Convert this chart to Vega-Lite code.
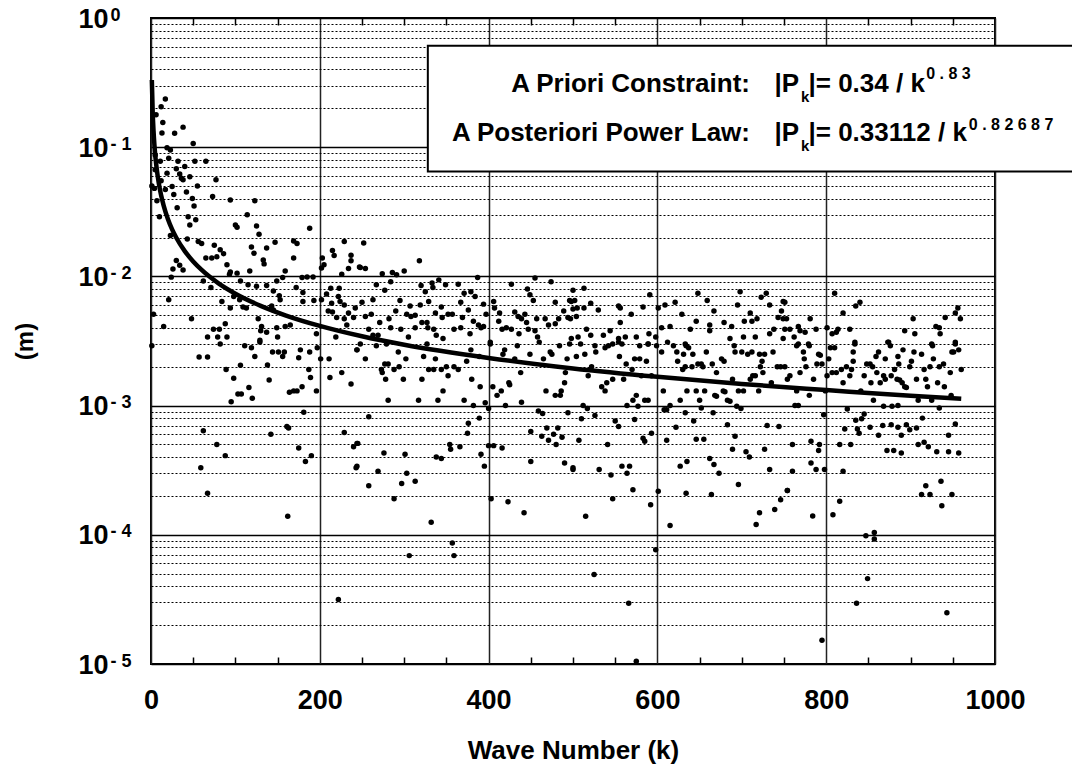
{
"$schema": "https://vega.github.io/schema/vega-lite/v6.json",
"width": 844, "height": 646,
"autosize": {"type": "none"},
"padding": {"left": 151, "top": 18, "right": 77, "bottom": 111},
"background": "white",
"config": {"view": {"stroke": "#000", "strokeWidth": 2}, "font": "Liberation Sans", "axis": {"labelFont": "Liberation Sans", "titleFont": "Liberation Sans", "labelColor": "#000", "titleColor": "#000"}},
"datasets": {
"curve": [{"k":1,"p":0.3311},{"k":2,"p":0.1867},{"k":3,"p":0.1335},{"k":4,"p":0.1052},{"k":5,"p":0.0875},{"k":6,"p":0.0752},{"k":8,"p":0.0593},{"k":10,"p":0.0493},{"k":12,"p":0.0424},{"k":15,"p":0.0353},{"k":20,"p":0.0278},{"k":25,"p":0.0231},{"k":30,"p":0.0199},{"k":40,"p":0.0157},{"k":50,"p":0.01304},{"k":60,"p":0.01122},{"k":80,"p":0.00884},{"k":100,"p":0.00735},{"k":130,"p":0.00592},{"k":160,"p":0.00498},{"k":200,"p":0.00414},{"k":250,"p":0.00344},{"k":300,"p":0.00296},{"k":400,"p":0.00234},{"k":500,"p":0.00194},{"k":600,"p":0.00167},{"k":700,"p":0.00147},{"k":800,"p":0.00132},{"k":900,"p":0.00119},{"k":960,"p":0.00113}],
"pts": [
{"k":17,"p":0.236},{"k":12,"p":0.206},{"k":6,"p":0.178},{"k":14,"p":0.155},{"k":38,"p":0.143},{"k":13,"p":0.129},{"k":28,"p":0.128},{"k":50,"p":0.107},{"k":19,"p":0.099},{"k":23,"p":0.095},{"k":21,"p":0.082},{"k":5,"p":0.087},{"k":11,"p":0.078},{"k":32,"p":0.078},{"k":40,"p":0.071},{"k":52,"p":0.078},{"k":65,"p":0.078},{"k":30,"p":0.068},{"k":5,"p":0.067},{"k":19,"p":0.063},{"k":34,"p":0.062},{"k":46,"p":0.059},{"k":36,"p":0.0575},{"k":38,"p":0.056},{"k":12,"p":0.055},{"k":77,"p":0.056},{"k":55,"p":0.05},{"k":25,"p":0.0496},{"k":4,"p":0.048},{"k":17,"p":0.047},{"k":42,"p":0.045},{"k":27,"p":0.043},{"k":73,"p":0.0416},{"k":49,"p":0.04},{"k":7,"p":0.0385},{"k":94,"p":0.039},{"k":123,"p":0.0385},{"k":31,"p":0.034},{"k":51,"p":0.035},{"k":10,"p":0.029},{"k":44,"p":0.029},{"k":114,"p":0.03},{"k":46,"p":0.025},{"k":53,"p":0.0274},{"k":100,"p":0.025},{"k":102,"p":0.024},{"k":125,"p":0.0246},{"k":188,"p":0.0236},{"k":128,"p":0.0212},{"k":23,"p":0.0207},{"k":43,"p":0.0195},{"k":56,"p":0.0186},{"k":60,"p":0.018},{"k":169,"p":0.0188},{"k":173,"p":0.018},{"k":147,"p":0.0184},{"k":229,"p":0.0186},{"k":75,"p":0.0174},{"k":119,"p":0.0169},{"k":137,"p":0.0166},{"k":82,"p":0.0161},{"k":86,"p":0.015},{"k":65,"p":0.0139},{"k":72,"p":0.0139},{"k":78,"p":0.0142},{"k":122,"p":0.0151},{"k":215,"p":0.0159},{"k":217,"p":0.0145},{"k":237,"p":0.0146},{"k":30,"p":0.0133},{"k":133,"p":0.0134},{"k":169,"p":0.0139},{"k":203,"p":0.0139},{"k":237,"p":0.0132},{"k":34,"p":0.0122},{"k":26,"p":0.0114},{"k":38,"p":0.0112},{"k":90,"p":0.0123},{"k":134,"p":0.0125},{"k":205,"p":0.0123},{"k":202,"p":0.0116},{"k":234,"p":0.0115},{"k":247,"p":0.0118},{"k":94,"p":0.0108},{"k":102,"p":0.0106},{"k":117,"p":0.011},{"k":159,"p":0.011},{"k":226,"p":0.0104},{"k":93,"p":0.0104},{"k":24,"p":0.00987},{"k":62,"p":0.0092},{"k":106,"p":0.0092},{"k":71,"p":0.0082},{"k":115,"p":0.0086},{"k":125,"p":0.0084},{"k":137,"p":0.0085},{"k":149,"p":0.0092},{"k":156,"p":0.0098},{"k":145,"p":0.0077},{"k":179,"p":0.0098},{"k":185,"p":0.0099},{"k":192,"p":0.0099},{"k":180,"p":0.0075},{"k":172,"p":0.0082},{"k":213,"p":0.0081},{"k":223,"p":0.0081},{"k":208,"p":0.0073},{"k":222,"p":0.007},{"k":214,"p":0.0062},{"k":202,"p":0.0066},{"k":193,"p":0.0065},{"k":152,"p":0.0071},{"k":153,"p":0.0066},{"k":98,"p":0.007},{"k":105,"p":0.0066},{"k":84,"p":0.0064},{"k":21,"p":0.0066},{"k":94,"p":0.0057},{"k":109,"p":0.0058},{"k":113,"p":0.0057},{"k":143,"p":0.0059},{"k":145,"p":0.0055},{"k":180,"p":0.0064},{"k":224,"p":0.0064},{"k":229,"p":0.006},{"k":3,"p":0.0051},{"k":48,"p":0.0047},{"k":127,"p":0.0047},{"k":210,"p":0.0054},{"k":215,"p":0.0053},{"k":234,"p":0.0052},{"k":220,"p":0.0048},{"k":229,"p":0.0047},{"k":240,"p":0.0048},{"k":165,"p":0.0042},{"k":159,"p":0.0041},{"k":149,"p":0.004},{"k":15,"p":0.0041},{"k":88,"p":0.0043},{"k":131,"p":0.0041},{"k":232,"p":0.0042},{"k":74,"p":0.0039},{"k":81,"p":0.0039},{"k":130,"p":0.0038},{"k":137,"p":0.0037},{"k":67,"p":0.0034},{"k":79,"p":0.0034},{"k":129,"p":0.0032},{"k":219,"p":0.0034},{"k":196,"p":0.0036},{"k":1,"p":0.0029},{"k":1,"p":0.05},
{"k":57,"p":0.00238},{"k":67,"p":0.00238},{"k":82,"p":0.003},{"k":89,"p":0.0019},{"k":98,"p":0.00163},{"k":95,"p":0.00107},{"k":103,"p":0.00123},{"k":107,"p":0.00123},{"k":106,"p":0.00205},{"k":111,"p":0.0029},{"k":119,"p":0.0028},{"k":123,"p":0.0024},{"k":116,"p":0.00138},{"k":120,"p":0.00114},{"k":129,"p":0.0031},{"k":138,"p":0.00206},{"k":140,"p":0.00158},{"k":144,"p":0.0026},{"k":151,"p":0.0026},{"k":158,"p":0.0026},{"k":156,"p":0.0024},{"k":164,"p":0.00127},{"k":169,"p":0.0013},{"k":173,"p":0.0013},{"k":175,"p":0.00235},{"k":177,"p":0.0027},{"k":179,"p":0.0014},{"k":188,"p":0.0026},{"k":187,"p":0.0019},{"k":189,"p":0.00165},{"k":196,"p":0.0013},{"k":197,"p":0.0028},{"k":201,"p":0.0023},{"k":211,"p":0.0023},{"k":212,"p":0.00165},{"k":226,"p":0.0018},{"k":237,"p":0.00147},{"k":244,"p":0.0027},{"k":181,"p":0.00089},{"k":62,"p":0.00064},{"k":161,"p":0.00069},{"k":163,"p":0.00067},{"k":142,"p":0.0006},{"k":78,"p":0.0005},{"k":175,"p":0.00047},{"k":88,"p":0.00041},{"k":190,"p":0.00041},{"k":59,"p":0.00033},{"k":183,"p":0.00037},{"k":67,"p":0.00021},{"k":162,"p":0.000139},{"k":229,"p":0.00062},{"k":240,"p":0.00048},{"k":245,"p":0.00051},{"k":243,"p":0.00033},{"k":222,"p":0.0000316},{"k":90,"p":0.0034},{"k":150,"p":0.0034},
{"k":252,"p":0.0181},{"k":248,"p":0.0117},{"k":254,"p":0.0115},{"k":318,"p":0.0132},{"k":274,"p":0.0105},{"k":286,"p":0.0107},{"k":291,"p":0.0103},{"k":300,"p":0.011},{"k":284,"p":0.0091},{"k":267,"p":0.0086},{"k":277,"p":0.0078},{"k":320,"p":0.0085},{"k":333,"p":0.0089},{"k":341,"p":0.0094},{"k":349,"p":0.0086},{"k":364,"p":0.0087},{"k":387,"p":0.0098},{"k":325,"p":0.0076},{"k":334,"p":0.0082},{"k":371,"p":0.0074},{"k":379,"p":0.0076},{"k":384,"p":0.007},{"k":250,"p":0.0063},{"k":263,"p":0.0066},{"k":295,"p":0.0065},{"k":307,"p":0.0059},{"k":319,"p":0.006},{"k":329,"p":0.0064},{"k":344,"p":0.0058},{"k":367,"p":0.0063},{"k":376,"p":0.0055},{"k":394,"p":0.0061},{"k":242,"p":0.0057},{"k":254,"p":0.0049},{"k":261,"p":0.0051},{"k":271,"p":0.0044},{"k":282,"p":0.0047},{"k":290,"p":0.0054},{"k":303,"p":0.0051},{"k":308,"p":0.0049},{"k":313,"p":0.005},{"k":321,"p":0.0044},{"k":327,"p":0.0044},{"k":337,"p":0.0052},{"k":345,"p":0.0048},{"k":352,"p":0.0051},{"k":357,"p":0.0051},{"k":369,"p":0.0048},{"k":382,"p":0.0045},{"k":388,"p":0.0042},{"k":394,"p":0.0041},{"k":397,"p":0.0051},{"k":258,"p":0.0039},{"k":263,"p":0.0035},{"k":269,"p":0.0035},{"k":284,"p":0.004},{"k":296,"p":0.0039},{"k":305,"p":0.0034},{"k":313,"p":0.004},{"k":328,"p":0.004},{"k":335,"p":0.0039},{"k":338,"p":0.0035},{"k":346,"p":0.0033},{"k":359,"p":0.0039},{"k":367,"p":0.004},{"k":378,"p":0.0036},{"k":391,"p":0.004},{"k":427,"p":0.0087},{"k":455,"p":0.0097},{"k":474,"p":0.0091},{"k":446,"p":0.008},{"k":449,"p":0.0072},{"k":453,"p":0.0065},{"k":479,"p":0.0063},{"k":498,"p":0.0064},{"k":406,"p":0.0064},{"k":407,"p":0.0057},{"k":413,"p":0.0052},{"k":412,"p":0.0045},{"k":431,"p":0.0053},{"k":435,"p":0.0049},{"k":439,"p":0.0047},{"k":443,"p":0.0051},{"k":445,"p":0.0044},{"k":457,"p":0.0047},{"k":467,"p":0.0047},{"k":471,"p":0.0042},{"k":479,"p":0.0043},{"k":483,"p":0.0047},{"k":489,"p":0.0054},{"k":494,"p":0.0048},{"k":421,"p":0.004},{"k":416,"p":0.0039},{"k":427,"p":0.0039},{"k":436,"p":0.0036},{"k":447,"p":0.0039},{"k":458,"p":0.0034},{"k":498,"p":0.0033},{"k":402,"p":0.0031},{"k":455,"p":0.0038},
{"k":244,"p":0.0027},{"k":248,"p":0.003},{"k":254,"p":0.0023},{"k":267,"p":0.0029},{"k":273,"p":0.0019},{"k":274,"p":0.0018},{"k":279,"p":0.003},{"k":277,"p":0.0021},{"k":281,"p":0.0021},{"k":278,"p":0.0016},{"k":288,"p":0.0019},{"k":293,"p":0.0026},{"k":294,"p":0.002},{"k":299,"p":0.0016},{"k":302,"p":0.0023},{"k":317,"p":0.0011},{"k":281,"p":0.0011},{"k":321,"p":0.0016},{"k":323,"p":0.0024},{"k":327,"p":0.003},{"k":329,"p":0.0019},{"k":335,"p":0.0019},{"k":337,"p":0.0023},{"k":340,"p":0.0011},{"k":344,"p":0.0019},{"k":346,"p":0.0013},{"k":350,"p":0.002},{"k":352,"p":0.0017},{"k":359,"p":0.002},{"k":364,"p":0.0019},{"k":371,"p":0.0011},{"k":374,"p":0.0022},{"k":379,"p":0.0027},{"k":382,"p":0.001},{"k":380,"p":0.0016},{"k":389,"p":0.0024},{"k":390,"p":0.0014},{"k":396,"p":0.00105},{"k":402,"p":0.003},{"k":405,"p":0.0014},{"k":410,"p":0.0012},{"k":415,"p":0.0013},{"k":417,"p":0.0025},{"k":419,"p":0.0027},{"k":424,"p":0.0015},{"k":425,"p":0.00145},{"k":420,"p":0.001},{"k":431,"p":0.0023},{"k":434,"p":0.0029},{"k":439,"p":0.00106},{"k":438,"p":0.0018},{"k":449,"p":0.0025},{"k":460,"p":0.0031},{"k":465,"p":0.0023},{"k":468,"p":0.0013},{"k":473,"p":0.0026},{"k":475,"p":0.0025},{"k":479,"p":0.0012},{"k":484,"p":0.0029},{"k":486,"p":0.0013},{"k":485,"p":0.0012},{"k":490,"p":0.0015},{"k":491,"p":0.0018},{"k":493,"p":0.0023},{"k":496,"p":0.003},
{"k":258,"p":0.00082},{"k":244,"p":0.00051},{"k":276,"p":0.00043},{"k":301,"p":0.00042},{"k":244,"p":0.00034},{"k":269,"p":0.00031},{"k":303,"p":0.0003},{"k":258,"p":0.00024},{"k":297,"p":0.00025},{"k":313,"p":0.00026},{"k":288,"p":0.00019},{"k":338,"p":0.0004},{"k":344,"p":0.00039},{"k":354,"p":0.0005},{"k":355,"p":0.00046},{"k":366,"p":0.00048},{"k":376,"p":0.00073},{"k":375,"p":0.00061},{"k":389,"p":0.0008},{"k":391,"p":0.00042},{"k":395,"p":0.00034},{"k":400,"p":0.00095},{"k":400,"p":0.00049},{"k":406,"p":0.00049},{"k":416,"p":0.00047},{"k":403,"p":0.00019},{"k":423,"p":0.00018},{"k":442,"p":0.000148},{"k":332,"p":0.000125},{"k":357,"p":0.0000863},{"k":359,"p":0.000069},{"k":306,"p":0.000069},{"k":459,"p":0.00091},{"k":464,"p":0.00087},{"k":450,"p":0.00063},{"k":463,"p":0.00058},{"k":469,"p":0.00067},{"k":471,"p":0.00054},{"k":477,"p":0.0006},{"k":480,"p":0.0005},{"k":482,"p":0.00067},{"k":487,"p":0.00057},{"k":494,"p":0.00088},{"k":490,"p":0.00036},{"k":500,"p":0.00032},{"k":450,"p":0.00037},
{"k":500,"p":0.0078},{"k":513,"p":0.0081},{"k":496,"p":0.0065},{"k":502,"p":0.0065},{"k":521,"p":0.0062},{"k":530,"p":0.0055},{"k":500,"p":0.0056},{"k":505,"p":0.0057},{"k":513,"p":0.0057},{"k":497,"p":0.0047},{"k":504,"p":0.0049},{"k":554,"p":0.0059},{"k":556,"p":0.0057},{"k":569,"p":0.0051},{"k":583,"p":0.0058},{"k":591,"p":0.0072},{"k":556,"p":0.0044},{"k":601,"p":0.0057},{"k":609,"p":0.006},{"k":621,"p":0.0063},{"k":629,"p":0.0051},{"k":648,"p":0.0074},{"k":659,"p":0.0065},{"k":667,"p":0.0054},{"k":646,"p":0.0045},{"k":662,"p":0.0042},{"k":679,"p":0.0044},{"k":688,"p":0.0041},{"k":698,"p":0.0076},{"k":695,"p":0.006},{"k":710,"p":0.0052},{"k":703,"p":0.0045},{"k":712,"p":0.0045},{"k":718,"p":0.0047},{"k":723,"p":0.0069},{"k":729,"p":0.0074},{"k":733,"p":0.006},{"k":749,"p":0.0064},{"k":747,"p":0.0054},{"k":743,"p":0.0048},{"k":749,"p":0.0047},{"k":733,"p":0.0036},{"k":738,"p":0.0039},{"k":751,"p":0.0039},{"k":516,"p":0.0039},{"k":521,"p":0.0035},{"k":536,"p":0.0035},{"k":544,"p":0.0038},{"k":554,"p":0.0033},{"k":562,"p":0.0034},{"k":575,"p":0.0034},{"k":590,"p":0.0036},{"k":598,"p":0.0034},{"k":605,"p":0.004},{"k":615,"p":0.0041},{"k":633,"p":0.003},{"k":639,"p":0.0039},{"k":662,"p":0.0038},{"k":702,"p":0.0034},{"k":716,"p":0.0034},{"k":686,"p":0.0033},{"k":749,"p":0.0033},{"k":506,"p":0.0034},{"k":589,"p":0.003},
{"k":504,"p":0.0024},{"k":509,"p":0.003},{"k":514,"p":0.0025},{"k":526,"p":0.0029},{"k":527,"p":0.0026},{"k":538,"p":0.0028},{"k":542,"p":0.0029},{"k":555,"p":0.0024},{"k":547,"p":0.003},{"k":554,"p":0.0031},{"k":558,"p":0.003},{"k":563,"p":0.0021},{"k":570,"p":0.0019},{"k":573,"p":0.0023},{"k":579,"p":0.0029},{"k":579,"p":0.0023},{"k":587,"p":0.0022},{"k":589,"p":0.003},{"k":599,"p":0.0029},{"k":605,"p":0.0026},{"k":612,"p":0.0031},{"k":619,"p":0.0029},{"k":623,"p":0.0026},{"k":631,"p":0.0025},{"k":634,"p":0.0029},{"k":637,"p":0.0028},{"k":642,"p":0.0025},{"k":624,"p":0.0022},{"k":630,"p":0.0019},{"k":633,"p":0.002},{"k":641,"p":0.002},{"k":648,"p":0.0021},{"k":652,"p":0.0021},{"k":654,"p":0.002},{"k":658,"p":0.0026},{"k":665,"p":0.0021},{"k":670,"p":0.0018},{"k":676,"p":0.0023},{"k":679,"p":0.0022},{"k":691,"p":0.0029},{"k":692,"p":0.0026},{"k":700,"p":0.0026},{"k":707,"p":0.0025},{"k":712,"p":0.0026},{"k":721,"p":0.0025},{"k":727,"p":0.0025},{"k":737,"p":0.0026},{"k":724,"p":0.0022},{"k":722,"p":0.002},{"k":725,"p":0.0018},{"k":713,"p":0.0017},{"k":710,"p":0.0016},{"k":716,"p":0.0017},{"k":742,"p":0.002},{"k":746,"p":0.002},{"k":754,"p":0.0016},{"k":518,"p":0.0017},{"k":522,"p":0.002},{"k":534,"p":0.0014},{"k":538,"p":0.0013},{"k":540,"p":0.0015},{"k":547,"p":0.0016},{"k":560,"p":0.0016},{"k":571,"p":0.0011},{"k":575,"p":0.0012},{"k":581,"p":0.0017},{"k":585,"p":0.0011},{"k":589,"p":0.0011},{"k":593,"p":0.0017},{"k":607,"p":0.0013},{"k":615,"p":0.001},{"k":608,"p":0.00093},{"k":627,"p":0.0011},{"k":635,"p":0.0013},{"k":646,"p":0.0013},{"k":650,"p":0.0011},{"k":656,"p":0.0013},{"k":668,"p":0.0012},{"k":670,"p":0.00118},{"k":678,"p":0.0013},{"k":680,"p":0.00128},{"k":683,"p":0.0011},{"k":686,"p":0.00108},{"k":689,"p":0.0016},{"k":696,"p":0.0013},{"k":702,"p":0.0013},{"k":694,"p":0.00099},{"k":699,"p":0.00095},{"k":720,"p":0.0013},{"k":735,"p":0.0015},
{"k":512,"p":0.001},{"k":517,"p":0.00095},{"k":510,"p":0.00079},{"k":526,"p":0.00084},{"k":550,"p":0.00076},{"k":554,"p":0.00069},{"k":564,"p":0.001},{"k":573,"p":0.00078},{"k":577,"p":0.00099},{"k":583,"p":0.00056},{"k":585,"p":0.00053},{"k":593,"p":0.00061},{"k":611,"p":0.00093},{"k":611,"p":0.00054},{"k":622,"p":0.00068},{"k":633,"p":0.00088},{"k":643,"p":0.00076},{"k":646,"p":0.00055},{"k":655,"p":0.00055},{"k":652,"p":0.00096},{"k":666,"p":0.00088},{"k":683,"p":0.00071},{"k":692,"p":0.00058},{"k":689,"p":0.00046},{"k":705,"p":0.00044},{"k":709,"p":0.0004},{"k":727,"p":0.00046},{"k":730,"p":0.0007},{"k":744,"p":0.00069},{"k":507,"p":0.00054},{"k":541,"p":0.0005},{"k":500,"p":0.00033},{"k":531,"p":0.00032},{"k":545,"p":0.00029},{"k":558,"p":0.00034},{"k":564,"p":0.0003},{"k":567,"p":0.00034},{"k":571,"p":0.000223},{"k":547,"p":0.00019},{"k":592,"p":0.000171},{"k":601,"p":0.000217},{"k":627,"p":0.00034},{"k":635,"p":0.00037},{"k":634,"p":0.00021},{"k":662,"p":0.00039},{"k":667,"p":0.00035},{"k":673,"p":0.0003},{"k":664,"p":0.000205},{"k":696,"p":0.000245},{"k":733,"p":0.00032},{"k":754,"p":0.00022},{"k":746,"p":0.000187},{"k":739,"p":0.000157},{"k":721,"p":0.000148},{"k":717,"p":0.00012},{"k":615,"p":0.000118},{"k":515,"p":0.000139},{"k":598,"p":0.0000767},{"k":525,"p":0.0000492},{"k":566,"p":0.0000295},{"k":575,"p":0.0000105},
{"k":751,"p":0.0063},{"k":753,"p":0.0047},{"k":757,"p":0.0039},{"k":762,"p":0.0034},{"k":767,"p":0.0041},{"k":769,"p":0.0038},{"k":775,"p":0.0037},{"k":781,"p":0.0047},{"k":788,"p":0.0039},{"k":801,"p":0.004},{"k":810,"p":0.0074},{"k":807,"p":0.0036},{"k":812,"p":0.0037},{"k":814,"p":0.0039},{"k":820,"p":0.0052},{"k":828,"p":0.0039},{"k":835,"p":0.0059},{"k":840,"p":0.0063},{"k":893,"p":0.0038},{"k":903,"p":0.0047},{"k":905,"p":0.0036},{"k":930,"p":0.0041},{"k":934,"p":0.004},{"k":935,"p":0.0036},{"k":941,"p":0.0048},{"k":953,"p":0.0052},{"k":956,"p":0.0057},{"k":959,"p":0.0047},{"k":767,"p":0.003},{"k":779,"p":0.003},{"k":834,"p":0.0031},{"k":874,"p":0.0031},{"k":925,"p":0.003},{"k":953,"p":0.0031},
{"k":765,"p":0.0029},{"k":773,"p":0.0026},{"k":774,"p":0.0023},{"k":776,"p":0.002},{"k":780,"p":0.0029},{"k":769,"p":0.0018},{"k":757,"p":0.0017},{"k":751,"p":0.002},{"k":785,"p":0.0016},{"k":789,"p":0.0021},{"k":795,"p":0.0021},{"k":791,"p":0.0025},{"k":793,"p":0.00245},{"k":803,"p":0.0023},{"k":805,"p":0.0028},{"k":810,"p":0.0028},{"k":801,"p":0.0017},{"k":807,"p":0.0018},{"k":812,"p":0.0018},{"k":818,"p":0.0019},{"k":820,"p":0.0015},{"k":824,"p":0.002},{"k":828,"p":0.0017},{"k":830,"p":0.0019},{"k":832,"p":0.0026},{"k":832,"p":0.0022},{"k":834,"p":0.003},{"k":845,"p":0.0017},{"k":848,"p":0.0021},{"k":852,"p":0.0021},{"k":855,"p":0.002},{"k":853,"p":0.0015},{"k":859,"p":0.0024},{"k":860,"p":0.0018},{"k":862,"p":0.0026},{"k":864,"p":0.0015},{"k":868,"p":0.0017},{"k":870,"p":0.0023},{"k":870,"p":0.0016},{"k":873,"p":0.0031},{"k":876,"p":0.0029},{"k":877,"p":0.0017},{"k":881,"p":0.0019},{"k":885,"p":0.0024},{"k":886,"p":0.0021},{"k":884,"p":0.0016},{"k":887,"p":0.00158},{"k":890,"p":0.0015},{"k":891,"p":0.0027},{"k":893,"p":0.0014},{"k":895,"p":0.00138},{"k":899,"p":0.002},{"k":901,"p":0.0022},{"k":904,"p":0.0026},{"k":907,"p":0.0016},{"k":913,"p":0.0025},{"k":916,"p":0.0019},{"k":918,"p":0.0016},{"k":920,"p":0.0014},{"k":923,"p":0.002},{"k":927,"p":0.0023},{"k":926,"p":0.0029},{"k":932,"p":0.0015},{"k":939,"p":0.0021},{"k":940,"p":0.0014},{"k":947,"p":0.0018},{"k":951,"p":0.0026},{"k":949,"p":0.0026},{"k":953,"p":0.003},{"k":957,"p":0.0027},{"k":960,"p":0.0019},{"k":934,"p":0.002},
{"k":765,"p":0.0013},{"k":780,"p":0.0012},{"k":799,"p":0.0013},{"k":841,"p":0.0013},{"k":856,"p":0.0011},{"k":868,"p":0.00099},{"k":878,"p":0.00099},{"k":885,"p":0.001},{"k":909,"p":0.0011},{"k":925,"p":0.0011},{"k":948,"p":0.0012},{"k":934,"p":0.00096},{"k":763,"p":0.001},{"k":767,"p":0.001},{"k":797,"p":0.00085},{"k":825,"p":0.00094},{"k":835,"p":0.00077},{"k":842,"p":0.00079},{"k":845,"p":0.00086},{"k":837,"p":0.00066},{"k":839,"p":0.00061},{"k":822,"p":0.00066},{"k":852,"p":0.00068},{"k":862,"p":0.00059},{"k":867,"p":0.0007},{"k":877,"p":0.00071},{"k":885,"p":0.00068},{"k":889,"p":0.00059},{"k":895,"p":0.00071},{"k":899,"p":0.00065},{"k":907,"p":0.00067},{"k":914,"p":0.0008},{"k":945,"p":0.00059},{"k":953,"p":0.00072},{"k":760,"p":0.0005},{"k":782,"p":0.00053},{"k":792,"p":0.0005},{"k":791,"p":0.00045},{"k":816,"p":0.0005},{"k":829,"p":0.0005},{"k":872,"p":0.00045},{"k":880,"p":0.00045},{"k":889,"p":0.00043},{"k":909,"p":0.0005},{"k":916,"p":0.00052},{"k":921,"p":0.00048},{"k":931,"p":0.00044},{"k":945,"p":0.00044},{"k":957,"p":0.00043},{"k":782,"p":0.00036},{"k":788,"p":0.00032},{"k":798,"p":0.00032},{"k":820,"p":0.00031},{"k":760,"p":0.00031},{"k":754,"p":0.00022},{"k":784,"p":0.00014},{"k":808,"p":0.000143},{"k":816,"p":0.000182},{"k":913,"p":0.000205},{"k":918,"p":0.00024},{"k":923,"p":0.000205},{"k":936,"p":0.00026},{"k":937,"p":0.000168},{"k":949,"p":0.000205},{"k":847,"p":0.0000984},{"k":857,"p":0.000104},{"k":857,"p":0.0000927},{"k":849,"p":0.0000458},{"k":836,"p":0.0000295},{"k":943,"p":0.0000249},{"k":795,"p":0.0000153}
]
},
"layer": [
{"data": {"name": "pts"},
 "mark": {"type": "circle", "size": 30, "color": "#000", "opacity": 1},
 "encoding": {
  "x": {"field": "k", "type": "quantitative", "scale": {"domain": [0, 1000], "nice": false, "zero": false},
   "axis": {"orient": "bottom", "values": [0, 200, 400, 600, 800, 1000], "format": "d", "grid": true, "gridColor": "#222", "gridWidth": 1.5, "domain": false, "ticks": false, "labelFontSize": 27, "labelFontWeight": "bold", "labelPadding": 23, "labelFlush": false, "labelOverlap": false, "title": "Wave Number (k)", "titleFontSize": 26, "titleFontWeight": "bold", "titlePadding": 24}},
  "y": {"field": "p", "type": "quantitative", "scale": {"type": "log", "domain": [0.00001, 1], "nice": false},
   "axis": {"orient": "left", "values": [0.00001, 0.0001, 0.001, 0.01, 0.1, 1], "grid": true, "gridColor": "#000", "gridWidth": 1.5, "domain": false, "ticks": false, "labelExpr": "'10'", "labelFontSize": 27, "labelFontWeight": "bold", "labelPadding": 43, "labelAlign": "right", "labelBaseline": "middle", "labelOffset": 1, "labelFlush": false, "labelOverlap": false, "encode": {"labels": {"update": {"dx": {"signal": "datum.value >= 1 ? 9 : 0"}}}}, "title": "(m)", "titleFontSize": 24, "titleFontWeight": "bold", "titlePadding": 40}}
 }},
{"data": {"name": "curve"},
 "mark": {"type": "line", "color": "#000", "strokeWidth": 4.5, "interpolate": "monotone"},
 "encoding": {
  "x": {"field": "k", "type": "quantitative", "scale": {"domain": [0, 1000], "nice": false, "zero": false},
   "axis": {"orient": "bottom", "values": [50, 100, 150, 250, 300, 350, 450, 500, 550, 650, 700, 750, 850, 900, 950], "grid": false, "labels": false, "domain": false, "ticks": true, "tickSize": -7, "tickColor": "#000", "tickWidth": 1.5, "title": null}},
  "y": {"field": "p", "type": "quantitative", "scale": {"type": "log", "domain": [0.00001, 1], "nice": false},
   "axis": {"orient": "left", "values": [0.00002, 0.00003, 0.00004, 0.00005, 0.00006, 0.00007, 0.00008, 0.00009, 0.0002, 0.0003, 0.0004, 0.0005, 0.0006, 0.0007, 0.0008, 0.0009, 0.002, 0.003, 0.004, 0.005, 0.006, 0.007, 0.008, 0.009, 0.02, 0.03, 0.04, 0.05, 0.06, 0.07, 0.08, 0.09, 0.2, 0.3, 0.4, 0.5, 0.6, 0.7, 0.8, 0.9], "grid": true, "gridDash": [2, 2], "gridColor": "#000", "gridWidth": 1, "labels": false, "ticks": false, "domain": false, "title": null}}
 }},
{"data": {"values": [{}]},
 "mark": {"type": "rect", "fill": "#fff", "stroke": "#000", "strokeWidth": 2},
 "encoding": {
  "x": {"datum": 328, "type": "quantitative", "scale": {"domain": [0, 1000], "nice": false, "zero": false},
   "axis": {"orient": "top", "values": [50, 100, 150, 250, 300, 350, 450, 500, 550, 650, 700, 750, 850, 900, 950], "grid": false, "labels": false, "domain": false, "ticks": true, "tickSize": -7, "tickColor": "#000", "tickWidth": 1.5, "title": null}},
  "x2": {"datum": 1100},
  "y": {"datum": 0.6106, "type": "quantitative", "scale": {"type": "log", "domain": [0.00001, 1], "nice": false},
   "axis": {"orient": "left", "values": [0.00001, 0.0001, 0.001, 0.01, 0.1, 1], "grid": false, "domain": false, "ticks": false, "labelExpr": "datum.value >= 1 ? '0' : '-  ' + round(-log(datum.value) / LN10)", "labelFontSize": 18, "labelFontWeight": "bold", "labelAlign": "left", "labelBaseline": "middle", "labelPadding": 41, "labelOffset": -3, "labelFlush": false, "labelOverlap": false, "encode": {"labels": {"update": {"dx": {"signal": "datum.value >= 1 ? 9 : 0"}}}}, "title": null}},
  "y2": {"datum": 0.0648}
 }},
{"data": {"values": [{}]}, "mark": {"type": "text", "text": "A Priori Constraint:", "align": "right", "baseline": "alphabetic", "fontSize": 26, "fontWeight": "bold", "font": "Liberation Sans", "color": "#000"},
 "encoding": {"x": {"datum": 709.7, "type": "quantitative", "axis": null}, "y": {"datum": 0.2678, "type": "quantitative", "axis": null}}},
{"data": {"values": [{}]}, "mark": {"type": "text", "text": "A Posteriori Power Law:", "align": "right", "baseline": "alphabetic", "fontSize": 26, "fontWeight": "bold", "font": "Liberation Sans", "color": "#000"},
 "encoding": {"x": {"datum": 709.7, "type": "quantitative", "axis": null}, "y": {"datum": 0.1119, "type": "quantitative", "axis": null}}},
{"data": {"values": [{}]}, "mark": {"type": "text", "text": "|P", "align": "left", "baseline": "alphabetic", "fontSize": 26, "fontWeight": "bold", "font": "Liberation Sans", "color": "#000"},
 "encoding": {"x": {"datum": 738.7, "type": "quantitative", "axis": null}, "y": {"datum": 0.2678, "type": "quantitative", "axis": null}}},
{"data": {"values": [{}]}, "mark": {"type": "text", "text": "|P", "align": "left", "baseline": "alphabetic", "fontSize": 26, "fontWeight": "bold", "font": "Liberation Sans", "color": "#000"},
 "encoding": {"x": {"datum": 738.7, "type": "quantitative", "axis": null}, "y": {"datum": 0.1119, "type": "quantitative", "axis": null}}},
{"data": {"values": [{}]}, "mark": {"type": "text", "text": "k", "align": "left", "baseline": "alphabetic", "fontSize": 15, "fontWeight": "bold", "font": "Liberation Sans", "color": "#000"},
 "encoding": {"x": {"datum": 770, "type": "quantitative", "axis": null}, "y": {"datum": 0.224, "type": "quantitative", "axis": null}}},
{"data": {"values": [{}]}, "mark": {"type": "text", "text": "k", "align": "left", "baseline": "alphabetic", "fontSize": 15, "fontWeight": "bold", "font": "Liberation Sans", "color": "#000"},
 "encoding": {"x": {"datum": 770, "type": "quantitative", "axis": null}, "y": {"datum": 0.0936, "type": "quantitative", "axis": null}}},
{"data": {"values": [{}]}, "mark": {"type": "text", "text": "|= 0.34 / k", "align": "left", "baseline": "alphabetic", "fontSize": 26, "fontWeight": "bold", "font": "Liberation Sans", "color": "#000"},
 "encoding": {"x": {"datum": 779, "type": "quantitative", "axis": null}, "y": {"datum": 0.2678, "type": "quantitative", "axis": null}}},
{"data": {"values": [{}]}, "mark": {"type": "text", "text": "|= 0.33112 / k", "align": "left", "baseline": "alphabetic", "fontSize": 26, "fontWeight": "bold", "font": "Liberation Sans", "color": "#000"},
 "encoding": {"x": {"datum": 779, "type": "quantitative", "axis": null}, "y": {"datum": 0.1119, "type": "quantitative", "axis": null}}},
{"data": {"values": [{}]}, "mark": {"type": "text", "text": "0 . 8 3", "align": "left", "baseline": "alphabetic", "fontSize": 16, "fontWeight": "bold", "font": "Liberation Sans", "color": "#000"},
 "encoding": {"x": {"datum": 918.5, "type": "quantitative", "axis": null}, "y": {"datum": 0.3375, "type": "quantitative", "axis": null}}},
{"data": {"values": [{}]}, "mark": {"type": "text", "text": "0 . 8 2 6 8 7", "align": "left", "baseline": "alphabetic", "fontSize": 16, "fontWeight": "bold", "font": "Liberation Sans", "color": "#000"},
 "encoding": {"x": {"datum": 969, "type": "quantitative", "axis": null}, "y": {"datum": 0.1361, "type": "quantitative", "axis": null}}}
],
"resolve": {"axis": {"x": "independent", "y": "independent"}}
}
